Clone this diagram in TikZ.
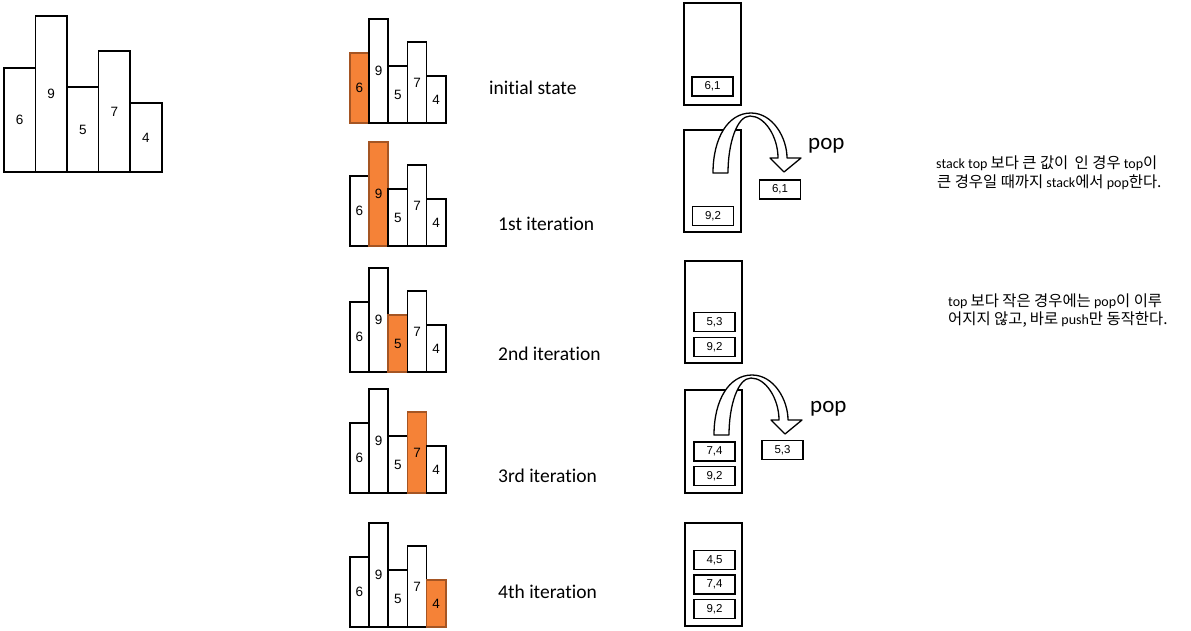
\documentclass[tikz,border=0pt]{standalone}
\usepackage{fontspec}
\setmainfont{Carlito}[Ligatures=CommonOff]
\newfontfamily\kr{Noto Sans CJK KR}[Scale=1.1]
\newfontfamily\lsans{Liberation Sans}
\definecolor{barorange}{RGB}{245,130,55}
\definecolor{barbrown}{RGB}{165,85,35}
\newcommand\uarrowat[1]{%
  \draw[uarr,shift={(#1)}] (0,0) .. controls (0,-35) and (15,-60) .. (38,-60)
    .. controls (60,-60) and (74,-35) .. (74,-15) -- (88,-15) -- (71,-1) -- (57,-15) -- (65,-15)
    .. controls (65,-36) and (52,-57) .. (37,-57)
    .. controls (24,-57) and (15,-30) .. (15,0) -- cycle;}
\begin{document}
\begin{tikzpicture}[x=1pt,y=-1pt,
  bar/.style={draw=black, line width=1.6pt, fill=white, inner sep=0pt, font=\lsans\fontsize{13.5}{15}\selectfont},
  hot/.style={bar, fill=barorange, draw=barbrown},
  stk/.style={draw=black, line width=1.3pt, inner sep=0pt, minimum width=57pt},
  cell/.style={draw=black, line width=1.2pt, fill=white, minimum width=41pt, minimum height=19pt, inner sep=0pt, font=\lsans\fontsize{11.5}{12}\selectfont},
  lbl/.style={anchor=west, inner sep=0pt, font=\fontsize{19.5}{22}\selectfont},
  poptxt/.style={anchor=base west, inner sep=0pt, font=\fontsize{23}{26}\selectfont},
  note/.style={anchor=base west, inner sep=0pt, font=\fontsize{14}{16}\selectfont},
  uarr/.style={draw=black, fill=white, line width=1.3pt, line join=round}]
\useasboundingbox (0,0) rectangle (1191,630);

% big histogram
\foreach \j/\h/\v in {1/104/6,2/156/9,3/85/5,4/121/7,5/69/4}{
  \node[bar, minimum width=31.6pt, minimum height=\h pt, anchor=south west] (b\j) at ({3+31.6*(\j-1)},173) {\v};
}

% small histograms
\foreach \r/\b in {1/124,2/247,3/373,4/494,5/628}{
  \foreach \j/\h/\v in {1/70/6,2/104/9,3/57/5,4/81/7,5/47/4}{
    \ifnum\j=\r \def\st{hot}\else\def\st{bar}\fi
    \node[\st, minimum width=19.2pt, minimum height=\h pt, anchor=south west] (h\r-\j) at ({349+19.2*(\j-1)},\b) {\v};
  }
}

% labels
\node[lbl] (t1) at (489,88) {initial state};
\node[lbl] (t2) at (498,224) {1st iteration};
\node[lbl] (t3) at (498,354) {2nd iteration};
\node[lbl] (t4) at (498,476) {3rd iteration};
\node[lbl] (t5) at (498,592) {4th iteration};

% stacks
\node[stk, minimum height=102pt] (s1) at (712.5,54) {};
\node[cell] (s1a) at (712.5,86.5) {6,1};

\node[stk, minimum height=102pt] (s2) at (712.5,181) {};
\node[cell] (s2a) at (713,216) {9,2};
\node[cell] (p1) at (780,189.5) {6,1};

\node[stk, minimum height=102pt] (s3) at (713.5,312) {};
\node[cell] (s3a) at (714.5,322) {5,3};
\node[cell] (s3b) at (714.5,347) {9,2};

\node[stk, line width=2.4pt, minimum height=103pt] (s4) at (713.5,441.5) {};
\node[cell] (s4a) at (714.5,451.5) {7,4};
\node[cell] (s4b) at (714.5,476) {9,2};
\node[cell] (p2) at (782.5,450) {5,3};

\node[stk, minimum height=103pt] (s5) at (713.5,574.5) {};
\node[cell] (s5a) at (714.5,560) {4,5};
\node[cell] (s5b) at (714.5,584.5) {7,4};
\node[cell] (s5c) at (714.5,609) {9,2};

% pop arrows
\uarrowat{713,173}
\uarrowat{714,435}
\node[poptxt] (pop1) at (808,149) {pop};
\node[poptxt] (pop2) at (810,412) {pop};

% notes
\node[note] (n1) at (936,168) {stack top {\kr 보다 큰 값이}\ \ {\kr 인 경우} top{\kr 이}};
\node[note] (n2) at (937,187) {{\kr 큰 경우일 때까지} stack{\kr 에서} pop{\kr 한다.}};
\node[note] (n3) at (948,306) {top {\kr 보다 작은 경우에는} pop{\kr 이 이루}};
\node[note] (n4) at (948,324) {{\kr 어지지 않고,} {\kr 바로} push{\kr 만 동작한다.}};
\end{tikzpicture}
\end{document}
